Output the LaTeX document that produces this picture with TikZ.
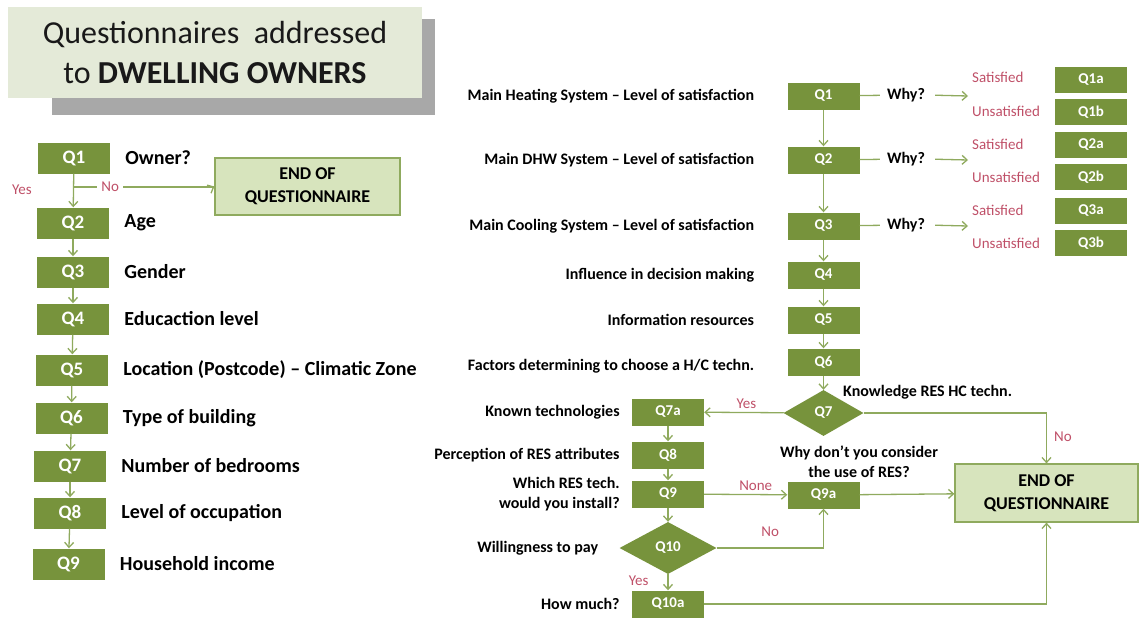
\documentclass[tikz,border=0pt]{standalone}
\usepackage{fontspec}
\setmainfont{Carlito}
\usetikzlibrary{positioning, shapes.geometric, arrows.meta}
\definecolor{qgreen}{HTML}{77933C}
\definecolor{linegreen}{HTML}{8FAA5E}
\definecolor{endfill}{HTML}{D7E4BD}
\definecolor{titlefill}{HTML}{E4EAD8}
\definecolor{shadowgray}{HTML}{A8A8A8}
\definecolor{answerred}{HTML}{BF5068}

\begin{document}
\begin{tikzpicture}[
            x=1pt, y=-1pt,
            qbox/.style={rectangle, fill=qgreen, text=white, inner sep=0pt, minimum width=72pt, minimum height=31pt, font=\bfseries\fontsize{19}{19}\selectfont},
            qsmall/.style={qbox, minimum height=27pt, font=\bfseries\fontsize{15}{15}\selectfont},
            qdiamond/.style={diamond, fill=qgreen, text=white, inner sep=0pt, font=\bfseries\fontsize{15}{15}\selectfont},
            endbox/.style={rectangle, draw=linegreen, line width=1.2pt, fill=endfill, align=center, font=\bfseries\fontsize{18}{23}\selectfont},
            label_right/.style={font=\bfseries\fontsize{20}{22}\selectfont, right=14pt, inner sep=1pt},
            label_left/.style={font=\bfseries\fontsize{16}{20}\selectfont, left=32pt, align=right, inner sep=1pt},
            label_close/.style={label_left, left=11pt},
            note_text/.style={font=\bfseries\fontsize{16}{20}\selectfont, align=center, inner sep=1pt},
            answer_text/.style={font=\fontsize{15}{15}\selectfont, text=answerred, inner sep=1pt},
            line/.style={draw=linegreen, line width=1.3pt},
            arrow/.style={line, -{Straight Barb[length=5pt, width=9pt]}}
        ]
        \useasboundingbox (0,0) rectangle (1140,618);

        % Title
        \node[rectangle, fill=shadowgray, minimum width=383pt, minimum height=95pt] (title_shadow) at (243.5,67) {};
        \node[rectangle, fill=titlefill, minimum width=414pt, minimum height=91pt, align=center,
              font=\fontsize{32}{40}\selectfont, text=black!90] (title) at (215,52.5)
              {Questionnaires\ \ addressed\\to \textbf{DWELLING OWNERS}};

        % Left column - owner profile
        \node[qbox] (q1) at (74,158) {Q1};
        \node[label_right] at (q1.east) {Owner?};
        \node[qbox] (q2) at (73,223) {Q2};
        \node[label_right] at (q2.east) {Age};
        \node[qbox] (q3) at (73,272) {Q3};
        \node[label_right] at (q3.east) {Gender};
        \node[qbox] (q4) at (73,319) {Q4};
        \node[label_right] at (q4.east) {Educaction level};
        \node[qbox] (q5) at (72,370) {Q5};
        \node[label_right] at (q5.east) {Location (Postcode) -- Climatic Zone};
        \node[qbox] (q6) at (71.5,418) {Q6};
        \node[label_right] at (q6.east) {Type of building};
        \node[qbox] (q7) at (70,466) {Q7};
        \node[label_right] at (q7.east) {Number of bedrooms};
        \node[qbox] (q8) at (70,513) {Q8};
        \node[label_right] at (q8.east) {Level of occupation};
        \node[qbox] (q9) at (68.5,564) {Q9};
        \node[label_right] at (q9.east) {Household income};

        \node[endbox, minimum width=185pt, minimum height=57pt] (end_left) at (307.5,186.5) {END OF\\QUESTIONNAIRE};

        \coordinate (no_split) at (73.5,187);
        \node[answer_text] at (22,190) {Yes};

        \draw[arrow] (q1) -- (q2);
        \draw[line] (no_split) -- (no_split -| end_left.west)
            node[answer_text, fill=white, pos=0.26, inner sep=4pt] {No};
        \draw[arrow] (no_split -| end_left.west) ++(-1,0) -- (end_left.west);
        \draw[arrow] (q2) -- (q3);
        \draw[arrow] (q3) -- (q4);
        \draw[arrow] (q4) -- (q5);
        \draw[arrow] (q5) -- (q6);
        \draw[arrow] (q6) -- (q7);
        \draw[arrow] (q7) -- (q8);
        \draw[arrow] (q8) -- (q9);

        % Right column - systems
        \node[qsmall] (r1) at (823.5,96) {Q1};
        \node[label_left] at (r1.west) {Main Heating System -- Level of satisfaction};
        \node[qsmall] (r2) at (823.5,160) {Q2};
        \node[label_left] at (r2.west) {Main DHW System -- Level of satisfaction};
        \node[qsmall] (r3) at (823.5,226) {Q3};
        \node[label_left] at (r3.west) {Main Cooling System -- Level of satisfaction};
        \node[qsmall] (r4) at (823.5,275) {Q4};
        \node[label_left] at (r4.west) {Influence in decision making};
        \node[qsmall] (r5) at (823.5,320) {Q5};
        \node[label_left] at (r5.west) {Information resources};
        \node[qsmall] (r6) at (823.5,362) {Q6};
        \node[label_left] at ([yshift=-4pt]r6.west) {Factors determining to choose a H/C techn.};

        % Why? branches
        \node[note_text] (why_1) at (906,95) {Why?};
        \node[note_text] (why_2) at (906,159) {Why?};
        \node[note_text] (why_3) at (906,225) {Why?};
        \coordinate (split_1) at (968,96);
        \coordinate (split_2) at (968,160);
        \coordinate (split_3) at (968,226);

        \node[qsmall, minimum height=26pt] (r1a) at (1091,80) {Q1a};
        \node[qsmall, minimum height=26pt] (r1b) at (1091,112) {Q1b};
        \node[qsmall, minimum height=26pt] (r2a) at (1091,145) {Q2a};
        \node[qsmall, minimum height=26pt] (r2b) at (1091,177) {Q2b};
        \node[qsmall, minimum height=26pt] (r3a) at (1091,211) {Q3a};
        \node[qsmall, minimum height=26pt] (r3b) at (1091,243) {Q3b};
        \node[answer_text, anchor=west] at (971,77) {Satisfied};
        \node[answer_text, anchor=west] at (971,111) {Unsatisfied};
        \node[answer_text, anchor=west] at (971,144) {Satisfied};
        \node[answer_text, anchor=west] at (971,177) {Unsatisfied};
        \node[answer_text, anchor=west] at (971,210) {Satisfied};
        \node[answer_text, anchor=west] at (971,243) {Unsatisfied};

        % Knowledge of RES
        \node[qdiamond, minimum width=80pt, minimum height=46pt] (r7) at (823.5,413) {Q7};
        \node[note_text, anchor=west] at (842,392) {Knowledge RES HC techn.};
        \node[qsmall] (r7a) at (668,412) {Q7a};
        \node[label_close] at (r7a.west) {Known technologies};
        \node[qsmall] (r8) at (668,455) {Q8};
        \node[label_close] at (r8.west) {Perception of RES attributes};
        \node[qsmall] (r9) at (668,494) {Q9};
        \node[label_close] at (r9.west) {Which RES tech.\\would you install?};
        \node[qdiamond, minimum width=97pt, minimum height=52pt] (r10) at (668,548) {Q10};
        \node[label_left, left=20pt] at (r10.west) {Willingness to pay};
        \node[qsmall] (r10a) at (668,604) {Q10a};
        \node[label_close] at (r10a.west) {How much?};
        \node[qsmall] (r9a) at (823.5,495) {Q9a};
        \node[note_text] at (859,462) {Why don’t you consider\\the use of RES?};

        \node[endbox, minimum width=183pt, minimum height=58pt] (end_right) at (1046.5,493) {END OF\\QUESTIONNAIRE};

        \draw[arrow] (r1) -- (r2);
        \draw[arrow] (r2) -- (r3);
        \draw[arrow] (r3) -- (r4);
        \draw[arrow] (r4) -- (r5);
        \draw[arrow] (r5) -- (r6);
        \draw[arrow] (r6) -- (r7);

        \draw[line, shorten >=6pt] (r1) -- (why_1);
        \draw[line, shorten >=6pt] (r2) -- (why_2);
        \draw[line, shorten >=6pt] (r3) -- (why_3);
        \draw[arrow, shorten <=9pt] (why_1.east) -- (split_1);
        \draw[arrow, shorten <=9pt] (why_2.east) -- (split_2);
        \draw[arrow, shorten <=9pt] (why_3.east) -- (split_3);

        \draw[arrow] (r7) -- (r7a) node[answer_text, pos=0.47, above=2pt] {Yes};
        \draw[arrow] (r7.east) -| (end_right.north) node[answer_text, pos=0.735, right=6pt] {No};
        \draw[arrow] (r7a) -- (r8);
        \draw[arrow] (r8) -- (r9);
        \draw[arrow] (r9) -- (r9a) node[answer_text, pos=0.62, above=2pt] {None};
        \draw[arrow] (r9) -- (r10);
        \draw[arrow] (r10.east) -| (r9a.south) node[answer_text, pos=0.25, above=10pt] {No};
        \draw[arrow] (r10) -- (r10a) node[answer_text, pos=0.4, left=18pt] {Yes};
        \draw[arrow] (r9a) -- (end_right);
        \draw[arrow] (r10a.east) -| (end_right.south);

    \end{tikzpicture}
\end{document}
